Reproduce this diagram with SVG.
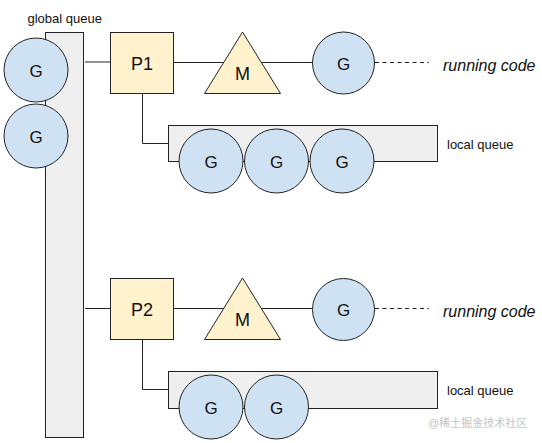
<svg xmlns="http://www.w3.org/2000/svg" width="542" height="443" viewBox="0 0 542 443">
<defs>
<style>
.q{fill:#efefef;stroke:#222;stroke-width:1}
.g{fill:#cfe2f3;stroke:#222;stroke-width:1}
.p{fill:#fff2cc;stroke:#222;stroke-width:1}
.ln{fill:none;stroke:#222;stroke-width:1}
.dash{fill:none;stroke:#222;stroke-width:1;stroke-dasharray:4 3.5}
text{font-family:"Liberation Sans",Arial,sans-serif;fill:#111}
.t16{font-size:17px;text-anchor:middle}
.t18{font-size:18px;text-anchor:middle}
.lbl{font-size:13px}
.run{font-size:16px;font-style:italic}
.wm{font-family:"Liberation Sans","Noto Sans CJK SC",sans-serif;font-size:11px;fill:#c4c4c4}
</style>
</defs>
<rect width="542" height="443" fill="#fff"/>

<g id="connectors">
<line class="ln" x1="85" y1="62" x2="110.5" y2="62"/>
<line class="ln" x1="173.5" y1="62.5" x2="312" y2="62.5"/>
<line class="dash" x1="375" y1="62.5" x2="429" y2="62.5"/>
<polyline class="ln" points="142.5,93.5 142.5,143.5 168.5,143.5"/>
<line class="ln" x1="85" y1="308.5" x2="110.5" y2="308.5"/>
<line class="ln" x1="173.5" y1="308.5" x2="312" y2="308.5"/>
<line class="dash" x1="375" y1="308.5" x2="429" y2="308.5"/>
<polyline class="ln" points="142.5,339.5 142.5,389.5 168.5,389.5"/>
</g>

<g id="global-queue">
<rect class="q" x="45.5" y="32.5" width="38" height="405"/>
<text class="lbl" x="27.5" y="23">global queue</text>
</g>
<g id="global-g1"><circle class="g" cx="36" cy="70" r="32"/><text class="t16" x="36" y="76.5">G</text></g>
<g id="global-g2"><circle class="g" cx="36" cy="136" r="32"/><text class="t16" x="36" y="142.5">G</text></g>

<g id="p1"><rect class="p" x="110.5" y="32.5" width="63" height="61"/><text class="t18" x="142" y="69.5">P1</text></g>
<g id="m1"><polygon class="p" points="242.5,32 204.5,93.5 280.5,93.5"/><text class="t18" x="242.5" y="79.5">M</text></g>
<g id="g-run1"><circle class="g" cx="343.5" cy="63" r="31"/><text class="t16" x="343.5" y="69.5">G</text></g>
<g id="run-label1"><text class="run" x="443" y="70.5">running code</text></g>
<g id="local-queue1">
<rect class="q" x="168.5" y="125.5" width="269" height="36"/>
<text class="lbl" x="447" y="149">local queue</text>
</g>
<g id="local1-g1"><circle class="g" cx="211" cy="161" r="32"/><text class="t16" x="211" y="167.5">G</text></g>
<g id="local1-g2"><circle class="g" cx="276.5" cy="161" r="32"/><text class="t16" x="276.5" y="167.5">G</text></g>
<g id="local1-g3"><circle class="g" cx="342" cy="161" r="32"/><text class="t16" x="342" y="167.5">G</text></g>

<g id="p2"><rect class="p" x="110.5" y="278.5" width="63" height="61"/><text class="t18" x="142" y="315.5">P2</text></g>
<g id="m2"><polygon class="p" points="242.5,278 204.5,339.5 280.5,339.5"/><text class="t18" x="242.5" y="325.5">M</text></g>
<g id="g-run2"><circle class="g" cx="343.5" cy="309.5" r="31"/><text class="t16" x="343.5" y="316">G</text></g>
<g id="run-label2"><text class="run" x="443" y="316.5">running code</text></g>
<g id="local-queue2">
<rect class="q" x="168.5" y="371.5" width="269" height="37"/>
<text class="lbl" x="447" y="395">local queue</text>
</g>
<g id="local2-g1"><circle class="g" cx="211" cy="407" r="32"/><text class="t16" x="211" y="413.5">G</text></g>
<g id="local2-g2"><circle class="g" cx="276.5" cy="407" r="32"/><text class="t16" x="276.5" y="413.5">G</text></g>

<text class="wm" x="428" y="427">@稀土掘金技术社区</text>
</svg>
